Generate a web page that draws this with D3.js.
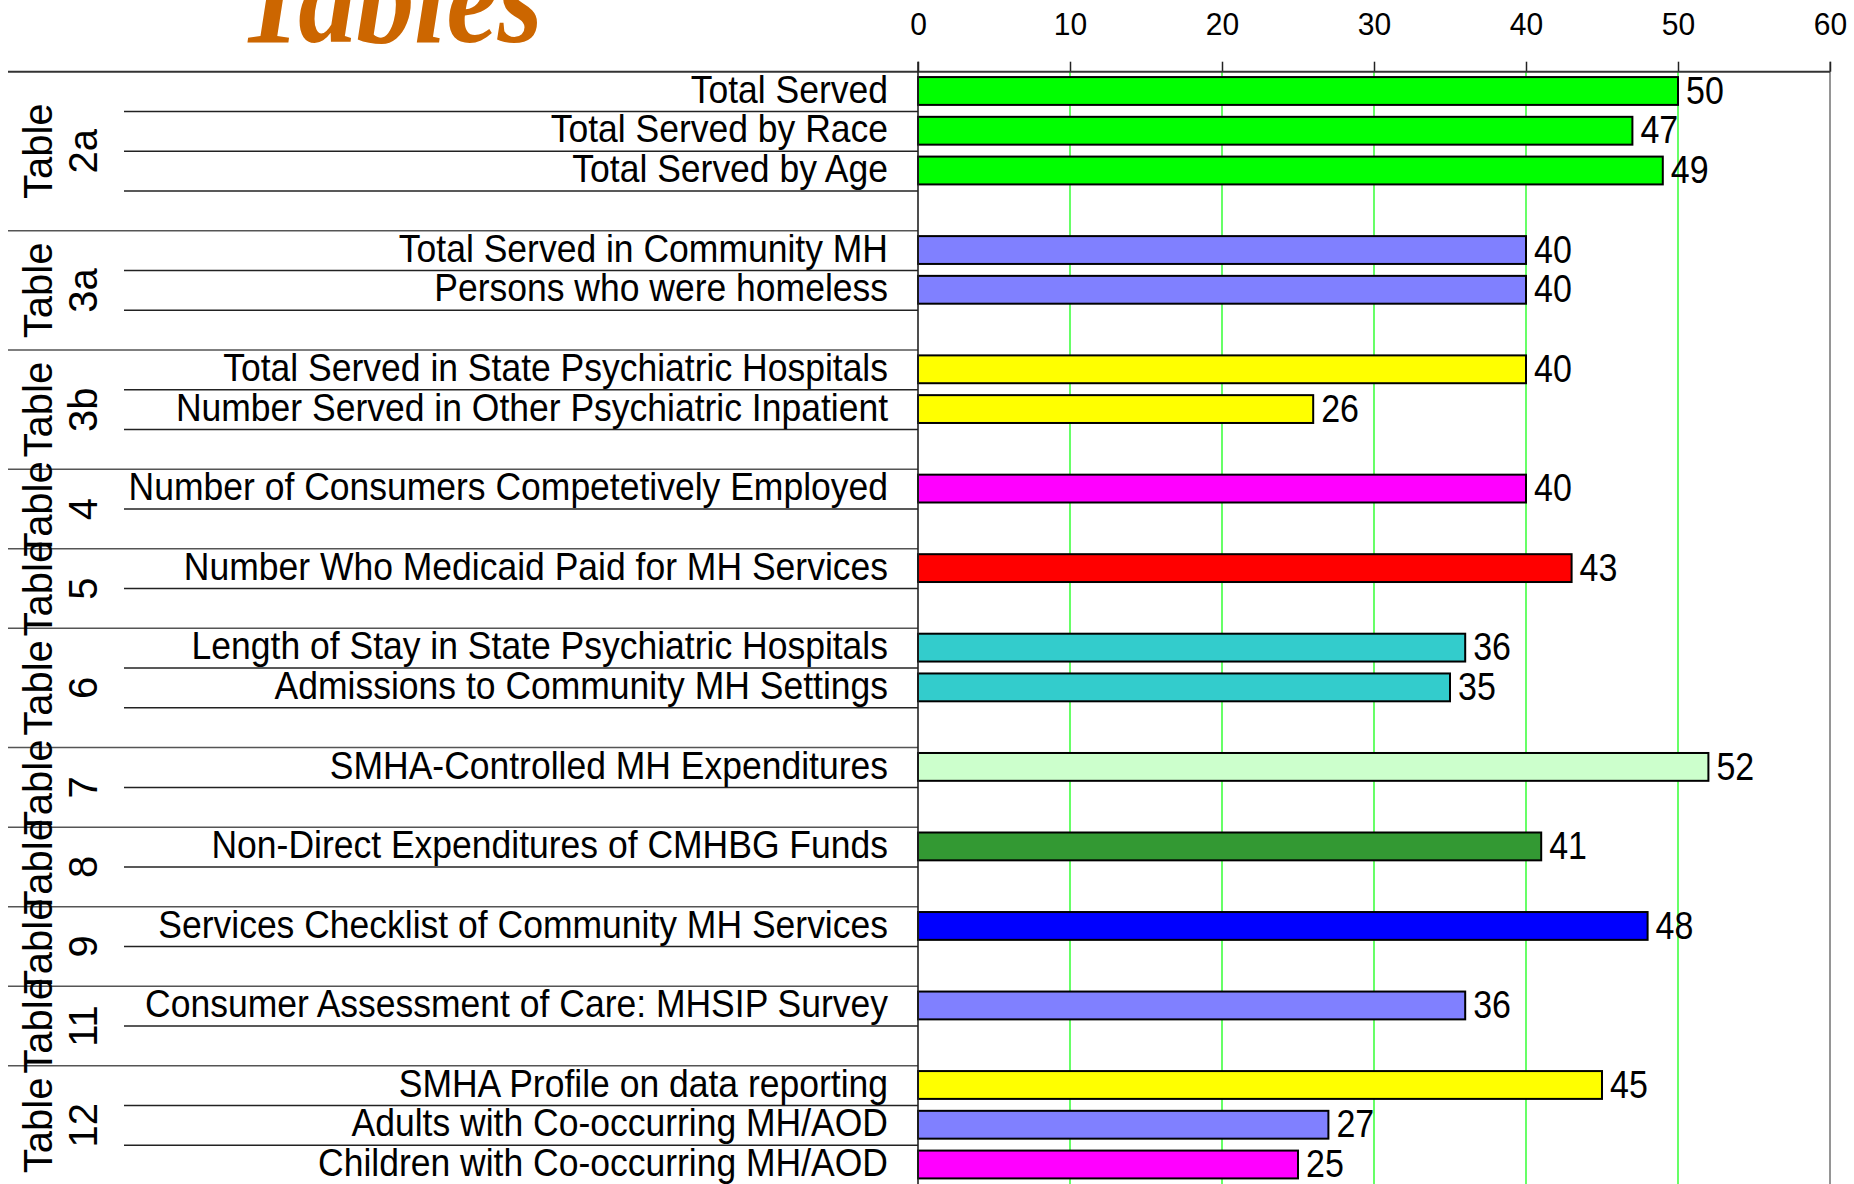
<!DOCTYPE html>
<html>
<head>
<meta charset="utf-8">
<script src="https://cdn.jsdelivr.net/npm/d3@7"></script>
<style>
  html, body { margin: 0; padding: 0; background: #ffffff; overflow: hidden; }
  svg { display: block; }
</style>
</head>
<body>
<svg id="chart" width="1854" height="1184"></svg>
<script>
// ---------------- DATA ----------------
const groupNames  = ["2a", "3a", "3b", "4", "5", "6", "7", "8", "9", "11", "12"];
const groupSlots  = [4, 3, 3, 2, 2, 3, 2, 2, 2, 2, 3];
const categories = [
  "Total Served", "Total Served by Race", "Total Served by Age",
  "Total Served in Community MH", "Persons who were homeless",
  "Total Served in State Psychiatric Hospitals", "Number Served in Other Psychiatric Inpatient",
  "Number of Consumers Competetively Employed",
  "Number Who Medicaid Paid for MH Services",
  "Length of Stay in State Psychiatric Hospitals", "Admissions to Community MH Settings",
  "SMHA-Controlled MH Expenditures",
  "Non-Direct Expenditures of CMHBG Funds",
  "Services Checklist of Community MH Services",
  "Consumer Assessment of Care: MHSIP Survey",
  "SMHA Profile on data reporting", "Adults with Co-occurring MH/AOD", "Children with Co-occurring MH/AOD"
];
const categoryGroup = [0,0,0, 1,1, 2,2, 3, 4, 5,5, 6, 7, 8, 9, 10,10,10];
const values = [50, 47, 49, 40, 40, 40, 26, 40, 43, 36, 35, 52, 41, 48, 36, 45, 27, 25];
const barColors = [
  "#00FF00", "#00FF00", "#00FF00",
  "#8080FF", "#8080FF",
  "#FFFF00", "#FFFF00",
  "#FF00FF",
  "#FF0000",
  "#33CCCC", "#33CCCC",
  "#CCFFCC",
  "#339933",
  "#0000FF",
  "#8080FF",
  "#FFFF00", "#8080FF", "#FF00FF"
];
const xTicks = [0, 10, 20, 30, 40, 50, 60];
const titleText = "Tables";

// ---------------- LAYOUT ----------------
const svg = d3.select("#chart");
const axisY = 71.7;
const slotH = 39.76;
const x0 = 918, x1 = 1830;
const totalSlots = d3.sum(groupSlots);

// build slot list
const slots = [];
groupNames.forEach((g, gi) => {
  const cats = categories.map((c, i) => i).filter(i => categoryGroup[i] === gi);
  for (let s = 0; s < groupSlots[gi]; s++) {
    slots.push({ id: "s" + slots.length, group: gi, first: s === 0, cat: s < cats.length ? cats[s] : null });
  }
});

const x = d3.scaleLinear().domain([0, 60]).range([x0, x1]);
const y = d3.scaleBand().domain(slots.map(d => d.id)).range([axisY, axisY + totalSlots * slotH]).padding(0);
const bw = y.bandwidth();

const FONT = "'Liberation Sans', Arial, sans-serif";

// Title
svg.append("text")
  .attr("transform", "translate(238,42) scale(1,1.12)")
  .attr("font-family", "'Liberation Serif', 'Times New Roman', serif")
  .attr("font-weight", "bold").attr("font-style", "italic")
  .attr("font-size", 118)
  .attr("fill", "#CC6600")
  .attr("textLength", 305).attr("lengthAdjust", "spacingAndGlyphs")
  .text(titleText);

// Gridlines
const grid = svg.append("g");
grid.selectAll("line.grid").data(xTicks.filter(t => t > 0 && t < 60)).join("line")
  .attr("x1", d => x(d)).attr("x2", d => x(d))
  .attr("y1", axisY).attr("y2", 1184)
  .attr("stroke", "#00FF00").attr("stroke-width", 1.2);
grid.append("line")
  .attr("x1", x(60)).attr("x2", x(60)).attr("y1", axisY - 10).attr("y2", 1184)
  .attr("stroke", "#8a8a8a").attr("stroke-width", 1.8);

// Separator lines in label area
const seps = svg.append("g");
slots.forEach((s, i) => {
  if (i === 0) return;
  const yy = y(s.id);
  seps.append("line")
    .attr("x1", s.first ? 8 : 124).attr("x2", x0)
    .attr("y1", yy).attr("y2", yy)
    .attr("stroke", s.first ? "#555" : "#222").attr("stroke-width", 1.5);
});

// Top axis
const topAxis = svg.append("g").attr("transform", `translate(0,${axisY})`)
  .call(d3.axisTop(x).tickValues(xTicks).tickSize(10).tickSizeOuter(0).tickPadding(9));
topAxis.select(".domain").remove();
topAxis.selectAll(".tick line").attr("stroke", "#222").attr("stroke-width", 1.5);
topAxis.selectAll(".tick text")
  .attr("font-family", FONT).attr("font-size", 30).attr("fill", "#000")
  .attr("dy", "0").attr("y", null)
  .attr("transform", `translate(0,${35 - axisY}) scale(1,1.05)`);
svg.append("line").attr("x1", 8).attr("x2", x1).attr("y1", axisY).attr("y2", axisY)
  .attr("stroke", "#333").attr("stroke-width", 2);

// Bars
const barSlots = slots.filter(s => s.cat !== null);
svg.append("g").selectAll("rect").data(barSlots).join("rect")
  .attr("x", x(0))
  .attr("y", d => y(d.id) + bw * 0.135)
  .attr("width", d => x(values[d.cat]) - x(0))
  .attr("height", bw * 0.7)
  .attr("fill", d => barColors[d.cat])
  .attr("stroke", "#000").attr("stroke-width", 2);

// Vertical axis line at 0
svg.append("line").attr("x1", x0).attr("x2", x0).attr("y1", axisY - 10).attr("y2", 1184)
  .attr("stroke", "#222").attr("stroke-width", 1.6);

// Value labels
svg.append("g").selectAll("text").data(barSlots).join("text")
  .attr("transform", d => `translate(${x(values[d.cat]) + 8},${y(d.id) + bw / 2 + 12}) scale(1,1.14)`)
  .attr("font-family", FONT).attr("font-size", 34).attr("fill", "#000")
  .text(d => values[d.cat]);

// Category labels
svg.append("g").selectAll("text").data(barSlots).join("text")
  .attr("transform", d => `translate(888,${y(d.id) + bw / 2 + 11}) scale(1,1.08)`)
  .attr("text-anchor", "end")
  .attr("font-family", FONT).attr("font-size", 35.5).attr("fill", "#000")
  .text(d => categories[d.cat]);

// Group labels
groupNames.forEach((g, gi) => {
  const gs = slots.filter(s => s.group === gi);
  const cy = y(gs[0].id) + gs.length * bw / 2;
  const t = svg.append("text")
    .attr("transform", `translate(52,${cy}) rotate(-90)`)
    .attr("text-anchor", "middle")
    .attr("font-family", FONT).attr("font-size", 40).attr("fill", "#000");
  t.append("tspan").attr("x", 0).attr("y", 0).text("Table");
  t.append("tspan").attr("x", 0).attr("y", 45).text(g);
});
</script>
</body>
</html>
